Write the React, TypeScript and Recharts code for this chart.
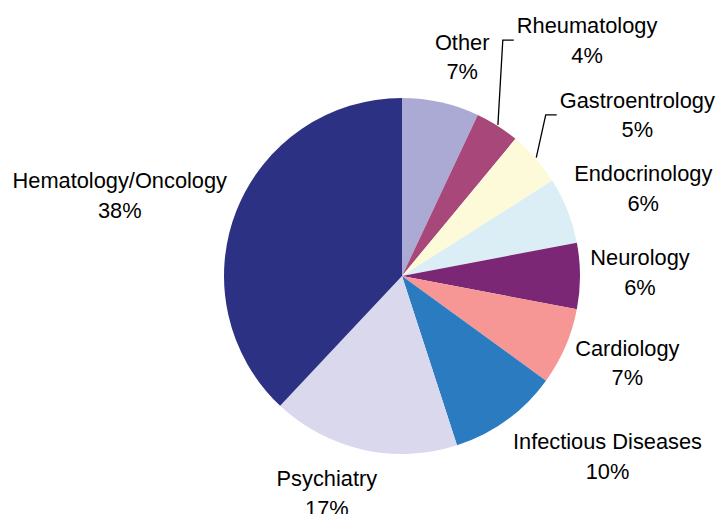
import React from "react";
import { PieChart, Pie, Cell } from "recharts";

const categories = [
  "Other",
  "Rheumatology",
  "Gastroentrology",
  "Endocrinology",
  "Neurology",
  "Cardiology",
  "Infectious Diseases",
  "Psychiatry",
  "Hematology/Oncology",
];
const shares = [7, 4, 5, 6, 6, 7, 10, 17, 38];

const colors = [
  "#ABAAD4",
  "#A8477A",
  "#FDFAD9",
  "#DCEEF5",
  "#7B2776",
  "#F69695",
  "#2B7BC0",
  "#D9D8ED",
  "#2D3184",
];

// label nudges from the radial anchor, like Excel's "best fit"
const labelNudge = [
  [8, 14],
  [57, -34],
  [56, -3],
  [19, 0],
  [-1, -4],
  [6, -8],
  [65, -13],
  [-23, -16],
  [-60, 7],
];
const hasLeader = [false, true, true, false, false, false, false, false, false];

const FONT = "Liberation Sans, Arial, sans-serif";
const FONT_SIZE = 21.8;
const RAD = Math.PI / 180;

const data = categories.map((name, i) => ({ name, value: shares[i] }));

let ctx: CanvasRenderingContext2D | null = null;
function textWidth(s: string) {
  if (!ctx) ctx = document.createElement("canvas").getContext("2d");
  if (!ctx) return s.length * FONT_SIZE * 0.5;
  ctx.font = `${FONT_SIZE}px ${FONT}`;
  return ctx.measureText(s).width;
}

function renderLabel(props: any) {
  const { cx, cy, midAngle, outerRadius, index, name, value } = props;
  const cos = Math.cos(-midAngle * RAD);
  const sin = Math.sin(-midAngle * RAD);
  const x = cx + 239 * cos + labelNudge[index][0];
  const y = cy + 239 * sin + labelNudge[index][1];
  let leader = null;
  if (hasLeader[index]) {
    const sx = cx + (outerRadius + 1) * cos;
    const sy = cy + (outerRadius + 1) * sin;
    const left = x - textWidth(name) / 2;
    leader = (
      <polyline
        points={`${sx},${sy} ${left - 14},${y} ${left - 3},${y}`}
        fill="none"
        stroke="#000"
        strokeWidth={1.3}
      />
    );
  }
  return (
    <g key={`lbl-${index}`}>
      {leader}
      <text
        x={x}
        y={y}
        textAnchor="middle"
        fontFamily={FONT}
        fontSize={FONT_SIZE}
        fill="#000"
      >
        <tspan x={x} dy={-7}>
          {name}
        </tspan>
        <tspan x={x} dy={29.5}>
          {`${value}%`}
        </tspan>
      </text>
    </g>
  );
}

export default function App() {
  return (
    <div style={{ position: "absolute", left: 0, top: 0, background: "#fff" }}>
      <PieChart width={717} height={514} margin={{ top: 0, right: 0, bottom: 0, left: 0 }}>
        <Pie
          data={data}
          dataKey="value"
          nameKey="name"
          cx={402}
          cy={276}
          outerRadius={178}
          startAngle={90}
          endAngle={-270}
          stroke="none"
          label={renderLabel}
          labelLine={false}
          isAnimationActive={false}
        >
          {data.map((d, i) => (
            <Cell key={d.name} fill={colors[i]} />
          ))}
        </Pie>
      </PieChart>
    </div>
  );
}
